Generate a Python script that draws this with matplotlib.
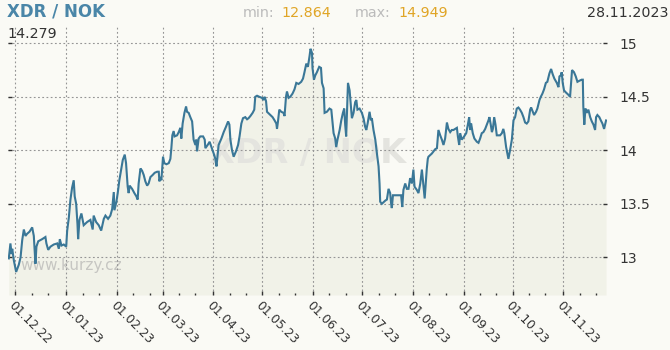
import numpy as np
import matplotlib
matplotlib.use("Agg")
import matplotlib.pyplot as plt
import matplotlib.dates as mdates
from matplotlib.ticker import FixedLocator

# ---- data (days since 2022-12-01, XDR/NOK rate) ----
day_offset = [
    -4.1, -3.1, -2.4, -2.0, -1.0, 0.4, 2.0, 3.1, 4.1, 5.1, 6.1, 7.1, 8.6, 10.2, 11.2, 12.2, 12.8, 13.9,
    16.3, 18.3, 18.9, 20.0, 21.4, 23.4, 25.5, 26.5, 27.1, 28.1, 29.5, 31.0, 31.6, 32.6, 33.6, 34.6,
    35.6, 36.2, 37.1, 37.9, 38.3, 39.1, 40.3, 41.7, 43.8, 45.8, 47.2, 47.8, 49.3, 50.9, 52.4, 54.0,
    55.0, 56.6, 58.0, 59.1, 60.1, 60.5, 61.7, 62.5, 63.5, 64.6, 65.6, 66.8, 67.6, 68.6, 69.2, 69.8,
    71.3, 72.7, 73.9, 74.7, 75.3, 76.4, 77.4, 78.4, 79.4, 80.5, 81.4, 82.5, 83.9, 85.1, 86.6, 87.6,
    88.0, 88.6, 89.2, 89.8, 90.2, 91.0, 92.3, 93.7, 94.7, 95.3, 95.9, 96.7, 97.3, 98.8, 99.8, 100.8,
    101.4, 102.2, 103.3, 104.3, 104.9, 105.9, 106.9, 108.0, 108.9, 110.0, 110.6, 111.0, 112.0, 113.0,
    114.7, 115.7, 116.1, 117.5, 118.7, 119.6, 121.2, 122.2, 122.9, 124.2, 125.9, 127.3, 128.7, 130.0,
    130.8, 131.4, 132.4, 133.4, 134.8, 136.1, 137.0, 138.1, 139.1, 140.5, 141.6, 142.5, 143.6, 145.0,
    146.0, 146.6, 147.7, 149.1, 150.7, 151.7, 152.3, 153.2, 153.8, 155.8, 157.2, 158.4, 159.5, 159.9,
    160.5, 161.3, 162.5, 163.9, 164.5, 165.4, 166.0, 167.0, 168.0, 169.4, 170.6, 171.7, 173.1, 174.7,
    175.8, 176.7, 177.8, 178.8, 179.8, 180.4, 181.3, 181.6, 182.5, 183.3, 184.3, 185.7, 186.8, 187.4,
    188.4, 189.0, 190.4, 192.0, 193.1, 193.9, 194.5, 195.5, 196.1, 196.9, 198.2, 199.2, 200.2, 201.0,
    201.6, 202.2, 202.7, 203.3, 204.3, 205.1, 205.7, 206.7, 207.7, 208.4, 209.1, 210.4, 211.8, 212.8,
    213.8, 214.5, 215.3, 216.5, 217.3, 217.9, 218.9, 220.0, 221.0, 222.0, 222.6, 223.0, 224.0, 226.1,
    227.1, 228.1, 229.1, 229.7, 230.1, 230.8, 232.2, 234.2, 235.8, 236.5, 237.2, 238.3, 239.3, 240.3,
    241.3, 242.4, 243.3, 244.0, 245.4, 246.4, 247.5, 248.5, 250.2, 251.5, 252.1, 252.5, 254.6, 256.6,
    257.7, 258.6, 259.7, 260.7, 261.7, 262.7, 263.8, 264.7, 265.8, 266.8, 267.8, 268.8, 269.9, 270.5,
    271.3, 271.9, 272.9, 273.9, 275.6, 276.6, 277.4, 278.0, 278.6, 279.6, 280.6, 282.1, 283.1, 284.1,
    285.1, 286.1, 287.2, 288.2, 289.2, 289.8, 290.6, 291.3, 291.9, 292.7, 293.5, 294.3, 296.3, 297.4,
    298.3, 298.9, 300.0, 300.8, 301.4, 302.4, 303.5, 304.5, 305.5, 306.5, 307.5, 308.5, 309.6, 310.6,
    311.6, 312.6, 313.6, 314.7, 315.3, 316.3, 317.1, 318.3, 319.1, 320.4, 321.2, 322.2, 323.2, 324.3,
    325.2, 326.5, 327.5, 328.5, 329.5, 331.0, 332.0, 332.6, 333.4, 334.0, 334.6, 335.4, 336.6, 338.0,
    339.1, 339.7, 340.3, 341.5, 342.6, 343.6, 344.8, 346.2, 346.9, 347.2, 347.8, 348.5, 349.3, 350.3,
    351.4, 352.4, 353.4, 354.4, 355.0, 355.8, 357.0, 357.9, 358.9, 359.9, 361.1,
]
rate = [
    12.99, 13.13, 13.03, 13.08, 12.97, 12.864, 12.93, 13.00, 13.16, 13.26, 13.20, 13.22, 13.24, 13.28, 13.20, 12.94, 13.10, 13.15,
    13.17, 13.19, 13.13, 13.07, 13.10, 13.12, 13.13, 13.08, 13.17, 13.11, 13.12, 13.10, 13.25, 13.37, 13.54, 13.65,
    13.72, 13.57, 13.50, 13.31, 13.17, 13.35, 13.41, 13.30, 13.33, 13.35, 13.26, 13.39, 13.33, 13.30, 13.25, 13.36,
    13.39, 13.36, 13.39, 13.45, 13.61, 13.44, 13.52, 13.60, 13.72, 13.82, 13.91, 13.96, 13.88, 13.66, 13.60, 13.67,
    13.64, 13.60, 13.57, 13.54, 13.69, 13.83, 13.81, 13.77, 13.71, 13.67, 13.69, 13.75, 13.77, 13.79, 13.80, 13.80,
    13.71, 13.75, 13.72, 13.86, 13.94, 13.88, 13.87, 13.88, 13.92, 14.02, 14.14, 14.18, 14.13, 14.14, 14.17, 14.21,
    14.11, 14.25, 14.35, 14.41, 14.36, 14.35, 14.31, 14.27, 14.10, 14.05, 14.10, 13.99, 14.11, 14.13,
    14.13, 14.10, 14.02, 14.05, 14.08, 14.04, 13.97, 13.92, 13.85, 14.05, 14.11, 14.17, 14.22, 14.27,
    14.24, 14.10, 14.00, 13.94, 13.99, 14.05, 14.13, 14.25, 14.30, 14.31, 14.29, 14.30, 14.32, 14.35,
    14.38, 14.50, 14.51, 14.50, 14.49, 14.47, 14.50, 14.46, 14.36, 14.33, 14.31, 14.28, 14.25, 14.20,
    14.27, 14.38, 14.36, 14.35, 14.32, 14.50, 14.55, 14.49, 14.50, 14.53, 14.57, 14.63, 14.62, 14.64,
    14.67, 14.73, 14.81, 14.78, 14.88, 14.949, 14.91, 14.77, 14.66, 14.70, 14.73, 14.78, 14.77, 14.63,
    14.58, 14.35, 14.36, 14.39, 14.38, 14.25, 14.16, 14.11, 14.03, 14.10, 14.19, 14.28, 14.35, 14.39,
    14.24, 14.13, 14.35, 14.63, 14.56, 14.41, 14.30, 14.35, 14.45, 14.47, 14.38, 14.39, 14.35, 14.30,
    14.22, 14.19, 14.25, 14.36, 14.28, 14.30, 14.19, 14.10, 13.97, 13.85, 13.69, 13.52, 13.50, 13.53,
    13.54, 13.64, 13.60, 13.50, 13.46, 13.58, 13.58, 13.58, 13.58, 13.47, 13.63, 13.69, 13.64, 13.64,
    13.74, 13.69, 13.82, 13.66, 13.63, 13.60, 13.69, 13.82, 13.55, 13.83, 13.92, 13.94, 13.97, 14.01,
    14.02, 14.19, 14.14, 14.10, 14.05, 14.11, 14.26, 14.20, 14.17, 14.19, 14.19, 14.20, 14.21, 14.13,
    14.05, 14.16, 14.10, 14.12, 14.16, 14.24, 14.31, 14.19, 14.25, 14.16, 14.11, 14.08, 14.07, 14.11,
    14.16, 14.17, 14.20, 14.24, 14.28, 14.31, 14.24, 14.17, 14.20, 14.31, 14.24, 14.14, 14.14, 14.16,
    14.20, 14.16, 14.03, 13.97, 13.92, 14.00, 14.10, 14.28, 14.31, 14.39, 14.40, 14.38, 14.35, 14.31,
    14.26, 14.25, 14.27, 14.38, 14.40, 14.36, 14.33, 14.36, 14.39, 14.47, 14.50, 14.53, 14.57, 14.63,
    14.64, 14.72, 14.76, 14.71, 14.67, 14.63, 14.59, 14.69, 14.70, 14.73, 14.63, 14.56, 14.54, 14.52,
    14.50, 14.63, 14.75, 14.73, 14.69, 14.64, 14.65, 14.66, 14.66, 14.41, 14.24, 14.39, 14.35, 14.38,
    14.31, 14.27, 14.24, 14.19, 14.31, 14.33, 14.31, 14.28, 14.25, 14.20, 14.279,
]
y_ticks = [13, 13.5, 14, 14.5, 15]
y_tick_labels = ["13", "13.5", "14", "14.5", "15"]
pair_label = "XDR / NOK"
min_value = "12.864"
max_value = "14.949"
last_value = "14.279"
date_label = "28.11.2023"
watermark = "www.kurzy.cz"

# ---- styling ----
BG = "#fafaf5"
FILL = "#f1f2e8"
LINE = "#3a7797"
GRID = "#959595"
TXT = "#333333"

W, H = 670, 350
fig = plt.figure(figsize=(W / 100, H / 100), dpi=100, facecolor=BG)
ax_l, ax_r, ax_t, ax_b = 8.3, 606.7, 25.0, 295.0
ax = fig.add_axes([ax_l / W, 1 - ax_b / H, (ax_r - ax_l) / W, (ax_b - ax_t) / H])
ax.set_facecolor(BG)
for s in ax.spines.values():
    s.set_visible(False)

base = mdates.date2num(np.datetime64("2022-12-01"))
x = base + np.array(day_offset)
y = np.array(rate)

ymin, ymax = 12.648, 15.171
ax.set_ylim(ymin, ymax)
ax.set_xlim(base - 4.4, base + 361.5)

ax.fill_between(x, y, ymin, color=FILL, lw=0, zorder=0.3)
ax.plot(x, y, color=LINE, lw=1.5, zorder=3, solid_joinstyle="miter")

# ticks
ax.xaxis.set_major_locator(mdates.MonthLocator())
ax.xaxis.set_major_formatter(mdates.DateFormatter("%d.%m.%y"))
ax.xaxis.set_minor_locator(mdates.DayLocator(bymonthday=[11, 21]))
ax.tick_params(axis="x", which="major", direction="in", length=3.2, width=1,
               color=TXT, labelsize=8.8, labelcolor=TXT, pad=2.5)
ax.tick_params(axis="x", which="minor", direction="in", length=1.5, width=1, color=TXT)
for lab in ax.get_xticklabels():
    lab.set_rotation(-45)
    lab.set_ha("left")
    lab.set_va("top")
    lab.set_rotation_mode("anchor")

ax.yaxis.set_major_locator(FixedLocator(y_ticks))
ax.set_yticklabels(y_tick_labels)
ax.tick_params(axis="y", which="major", direction="in", length=3.2, width=1,
               color=TXT, left=True, right=True, labelleft=False, labelright=True,
               labelsize=10, labelcolor=TXT, pad=9.5)

ax.grid(True, which="major", color=GRID, linestyle=(0, (1.6, 2.2)), linewidth=0.8)
ax.set_axisbelow(True)

# watermarks
ax.text(0.5, (ax_b - 163) / (ax_b - ax_t), pair_label, transform=ax.transAxes,
        ha="center", va="baseline", fontsize=24, fontweight="bold",
        color="#e4e4df", zorder=0.4)
ax.text((20 - ax_l) / (ax_r - ax_l), (ax_b - 270) / (ax_b - ax_t), watermark,
        transform=ax.transAxes, ha="left", va="baseline", fontsize=11,
        color="#c6c6c2", zorder=0.4)

# header texts
def fx(px):
    return px / W

def fy(py):
    return 1 - py / H

fig.text(fx(7), fy(17), pair_label, ha="left", va="baseline", fontsize=12,
         fontweight="bold", color="#4a86a8")
fig.text(fx(243), fy(17), "min:", ha="left", va="baseline", fontsize=10.3, color="#bbbbbb")
fig.text(fx(281), fy(17), min_value, ha="left", va="baseline", fontsize=10.3, color="#e0a526")
fig.text(fx(355), fy(17), "max:", ha="left", va="baseline", fontsize=10.3, color="#bbbbbb")
fig.text(fx(398), fy(17), max_value, ha="left", va="baseline", fontsize=10.3, color="#e0a526")
fig.text(fx(668), fy(17), date_label, ha="right", va="baseline", fontsize=10.3, color=TXT)
fig.text(fx(7), fy(38), last_value, ha="left", va="baseline", fontsize=10.3, color=TXT)

fig.savefig("out.png", dpi=100, facecolor=BG)
